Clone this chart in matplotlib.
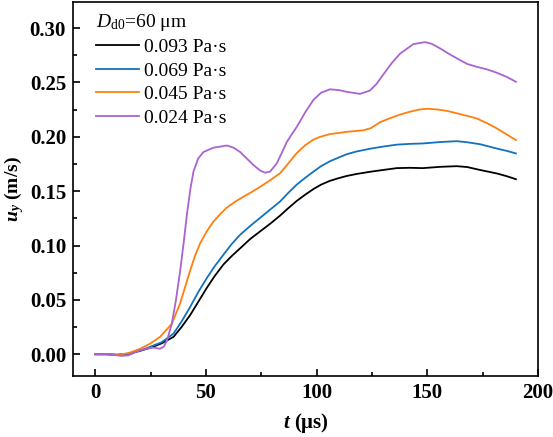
import matplotlib
matplotlib.use("Agg")
import matplotlib.pyplot as plt
from matplotlib.ticker import MultipleLocator, FormatStrFormatter

#
# data (t in us, u_y in m/s)
#
t_093 = [0, 5, 10, 15, 20, 25, 30, 35.4, 39, 42.9, 46.5, 50.4, 54, 57.9, 61.5, 65.5,
         70, 74.5, 79, 83.5, 87, 91, 95, 98.6, 102, 106, 110, 113.6, 118, 124, 130,
         136.2, 142, 148, 155.8, 163.3, 168, 173.8, 181.4, 186, 190]
u_093 = [0, 0, -0.0005, 0.0005, 0.003, 0.006, 0.010, 0.016, 0.025, 0.036, 0.048, 0.061,
         0.072, 0.0825, 0.090, 0.0975, 0.106, 0.113, 0.120, 0.1275, 0.134, 0.141, 0.147,
         0.152, 0.156, 0.1595, 0.162, 0.164, 0.1658, 0.1678, 0.1695, 0.1712, 0.1715,
         0.1712, 0.1724, 0.173, 0.1722, 0.1695, 0.1663, 0.1637, 0.161]
t_069 = t_093
u_069 = [0, 0, -0.0005, 0.0005, 0.003, 0.007, 0.011, 0.019, 0.030, 0.0435, 0.057, 0.070,
         0.081, 0.0915, 0.101, 0.110, 0.118, 0.1255, 0.133, 0.1405, 0.148, 0.156, 0.1625,
         0.168, 0.173, 0.1775, 0.181, 0.1840, 0.1865, 0.189, 0.191, 0.1928, 0.1935,
         0.1939, 0.1952, 0.196, 0.195, 0.1932, 0.1892, 0.187, 0.1847]
t_045 = [0, 5, 10, 15, 20.3, 25, 29.3, 34.6, 38.4, 40.5, 42.9, 45, 47.4, 50.4, 53.4,
         56.5, 59.5, 63, 67, 70.5, 74.5, 79, 83.5, 87, 91, 95, 98.6, 101.6, 106, 110.6,
         113.6, 117, 121.1, 124.5, 128.7, 133, 137.7, 142, 146.7, 150, 154.3, 159, 164.8,
         168.5, 172.3, 177, 181.4, 186, 190]
u_045 = [0, 0, -0.0005, 0.001, 0.005, 0.010, 0.016, 0.028, 0.047, 0.061, 0.077, 0.090,
         0.102, 0.113, 0.122, 0.129, 0.1350, 0.140, 0.145, 0.149, 0.154, 0.160, 0.1665,
         0.175, 0.185, 0.1925, 0.1975, 0.200, 0.2025, 0.2037, 0.2046, 0.2052, 0.206,
         0.208, 0.2135, 0.217, 0.2205, 0.223, 0.2252, 0.2258, 0.2252, 0.2238, 0.2209,
         0.219, 0.2169, 0.2125, 0.2077, 0.202, 0.197]
t_024 = [0, 5, 10, 12, 15, 20.3, 25, 27, 29.3, 31, 32.5, 34.6, 36.5, 38.4, 40, 41.4, 43,
         44.4, 46.5, 48.9, 53.4, 59.5, 62.5, 65.5, 68.5, 71.5, 74.5, 76.7, 79, 82, 84,
         86.5, 88.5, 91, 95, 98.6, 102, 106, 110, 113.6, 119.6, 124, 127, 130, 134, 137.7,
         143.7, 149, 152, 155.8, 160, 164.8, 168, 172.3, 177, 181.4, 186, 190]
u_024 = [0, 0, -0.001, -0.0015, -0.001, 0.0037, 0.006, 0.006, 0.005, 0.007, 0.013, 0.028,
         0.050, 0.077, 0.103, 0.128, 0.152, 0.168, 0.180, 0.186, 0.190, 0.192, 0.190,
         0.186, 0.180, 0.174, 0.169, 0.167, 0.168, 0.1755, 0.184, 0.195, 0.2015, 0.209,
         0.223, 0.234, 0.2405, 0.2437, 0.243, 0.2414, 0.2395, 0.2425, 0.2485, 0.257,
         0.268, 0.2765, 0.2853, 0.2871, 0.2855, 0.2813, 0.276, 0.2705, 0.267, 0.2644,
         0.262, 0.2589, 0.255, 0.2506]
labels = ["0.093 Pa·s", "0.069 Pa·s", "0.045 Pa·s", "0.024 Pa·s"]
colors = ["black", "#1272bd", "#ff7f0e", "#a963d2"]

#
# style
#
plt.rcParams["font.family"] = ["Liberation Serif", "DejaVu Serif"]
plt.rcParams["mathtext.fontset"] = "custom"
plt.rcParams["mathtext.rm"] = "Liberation Serif"
plt.rcParams["mathtext.it"] = "Liberation Serif:italic"
plt.rcParams["mathtext.bf"] = "Liberation Serif:bold"
plt.rcParams["mathtext.bfit"] = "Liberation Serif:italic:bold"

fig = plt.figure(figsize=(5.53, 4.37), dpi=100)
ax = fig.add_axes([0.132, 0.1396, 0.841, 0.8558])

xs = [t_093, t_069, t_045, t_024]
ys = [u_093, u_069, u_045, u_024]
for x, y, lab, c in zip(xs, ys, labels, colors):
  ax.plot(x, y, color=c, lw=1.3, label=lab, solid_joinstyle="round")

ax.set_xlim(-10, 200)
ax.set_ylim(-0.02, 0.324)
ax.xaxis.set_major_locator(MultipleLocator(50))
ax.xaxis.set_minor_locator(MultipleLocator(25))
ax.yaxis.set_major_locator(MultipleLocator(0.05))
ax.yaxis.set_minor_locator(MultipleLocator(0.025))
ax.yaxis.set_major_formatter(FormatStrFormatter("%.2f"))
ax.tick_params(which="both", direction="in", top=False, right=False, width=1.2)
ax.tick_params(which="major", length=5, labelsize=15, pad=5)
ax.tick_params(which="minor", length=3)
for lab in ax.get_xticklabels() + ax.get_yticklabels():
  lab.set_fontweight("bold")
for s in ax.spines.values():
  s.set_linewidth(1.2)

ax.set_xlabel(r"$\mathbfit{t}$ (μs)", fontsize=15, fontweight="bold", labelpad=6)
ax.set_ylabel(r"$\mathbfit{u}_{\mathbfit{y}}$ (m/s)", fontsize=14, fontweight="bold")
ax.yaxis.set_label_coords(-0.1, 0.5)

leg = ax.legend(loc="upper left", bbox_to_anchor=(0.028, 1.0), frameon=False,
                fontsize=14, title=r"$D_{\rm d0}$=60 μm", title_fontsize=14,
                handlelength=2.2, handletextpad=0.3, labelspacing=0.3,
                borderaxespad=0.1, alignment="left")

fig.savefig("out.png", dpi=100)
